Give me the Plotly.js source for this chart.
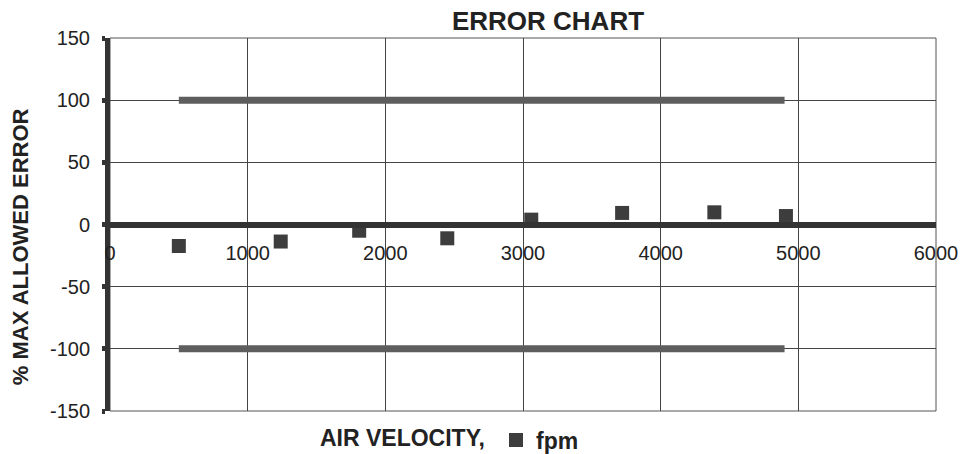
<!DOCTYPE html>
<html>
<head>
<meta charset="utf-8">
<script src="https://cdn.plot.ly/plotly-3.0.1.min.js"></script>
<style>html,body{margin:0;padding:0;background:#fff;}#chart{width:962px;height:454px;}</style>
</head>
<body>
<div id="chart"></div>
<script>
// Data
const velocity = [500, 1240, 1810, 2450, 3060, 3720, 4390, 4910];
const errorPct = [-17.3, -13.7, -5.0, -11.1, 3.9, 9.3, 9.8, 6.8];
const limitX = [500, 4900];
const upperLimit = [100, 100];
const lowerLimit = [-100, -100];
const xTicks = [0, 1000, 2000, 3000, 4000, 5000, 6000];
const yTicks = [-150, -100, -50, 0, 50, 100, 150];
const chartTitle = 'ERROR CHART';
const xTitle = 'AIR VELOCITY,';
const yTitle = '% MAX ALLOWED ERROR';
const seriesName = 'fpm';

const FONT = '"Liberation Sans", Arial, Helvetica, sans-serif';
const INK = '#222222';
const L = 110, R = 26, T = 38, B = 42.5, W = 962, H = 454;
const PW = W - L - R, PH = H - T - B;
const px2paperX = px => (px - L) / PW;
const px2paperY = py => (H - B - py) / PH;

const traces = [
  {x: limitX, y: upperLimit, mode: 'lines', line: {color: '#5e5e5e', width: 7}, showlegend: false, hoverinfo: 'skip'},
  {x: limitX, y: lowerLimit, mode: 'lines', line: {color: '#5e5e5e', width: 7}, showlegend: false, hoverinfo: 'skip'},
  {x: velocity, y: errorPct, mode: 'markers', name: '<b>' + seriesName + '</b>',
   marker: {symbol: 'square', size: 14, color: '#3d3d3d'}, showlegend: true}
];

const layout = {
  width: W, height: H,
  margin: {l: L, r: R, t: T, b: B},
  paper_bgcolor: '#ffffff', plot_bgcolor: '#ffffff',
  font: {family: FONT, color: INK, size: 20},
  title: {text: '<b>' + chartTitle + '</b>', font: {family: FONT, size: 26, color: INK},
          xref: 'container', x: 548/W, xanchor: 'center', yref: 'container', y: 1 - 21/H, yanchor: 'middle'},
  xaxis: {
    range: [0, 6000], tickvals: xTicks, ticktext: xTicks.map(String),
    anchor: 'free', position: 0.5,
    showline: true, linecolor: '#333333', linewidth: 6,
    showgrid: true, gridcolor: '#444444', gridwidth: 1,
    zeroline: false, ticks: '', tickfont: {family: FONT, size: 20, color: INK},
    ticklabelstandoff: 8
  },
  yaxis: {
    range: [-150, 150], tickvals: yTicks, ticktext: yTicks.map(String),
    showline: true, linecolor: '#333333', linewidth: 5,
    ticks: 'outside', ticklen: 3, tickwidth: 5, tickcolor: '#333333',
    showgrid: true, gridcolor: '#444444', gridwidth: 1,
    zeroline: false, tickfont: {family: FONT, size: 20, color: INK},
    ticklabelstandoff: 8
  },
  annotations: [
    {text: '<b>' + xTitle + '</b>', xref: 'paper', yref: 'paper', x: px2paperX(402), y: px2paperY(438.5),
     xanchor: 'center', yanchor: 'middle', showarrow: false, font: {family: FONT, size: 23, color: INK}},
    {text: '<b>' + yTitle + '</b>', xref: 'paper', yref: 'paper', x: px2paperX(20.5), y: px2paperY(247),
     xanchor: 'center', yanchor: 'middle', textangle: -90, showarrow: false, font: {family: FONT, size: 22, color: INK}}
  ],
  legend: {orientation: 'h', x: 496/W, xref: 'container', xanchor: 'left', y: (H - 440)/H, yref: 'container', yanchor: 'middle',
           font: {family: FONT, size: 23, color: INK}, bgcolor: 'rgba(0,0,0,0)', borderwidth: 0},
  shapes: [{type: 'rect', xref: 'paper', yref: 'paper', x0: 0, x1: 1, y0: 0, y1: 1, line: {color: '#555555', width: 1}, layer: 'below'}],
  showlegend: true
};

Plotly.newPlot('chart', traces, layout, {staticPlot: true, displayModeBar: false});
</script>
</body>
</html>
